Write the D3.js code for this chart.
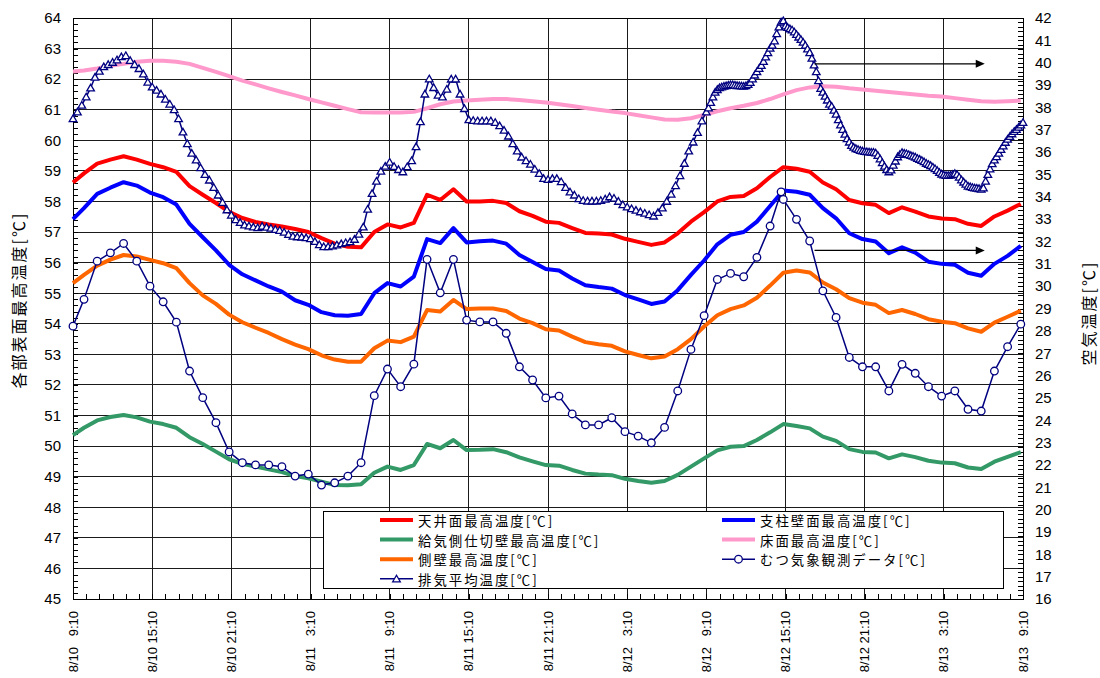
<!DOCTYPE html>
<html><head><meta charset="utf-8">
<script src="https://cdn.jsdelivr.net/npm/d3@7/dist/d3.min.js"></script>
<style>body{margin:0;background:#fff}svg{display:block}</style>
</head><body>
<svg id="c" width="1100" height="678"></svg>
<script>
// ---------------- data ----------------
const seriesNames = ["天井面最高温度[℃]","支柱壁面最高温度[℃]","給気側仕切壁最高温度[℃]","床面最高温度[℃]","側壁最高温度[℃]","むつ気象観測データ[℃]","排気平均温度[℃]"];
const leftTitle = "各部表面最高温度[℃]";
const rightTitle = "空気温度[℃]";
const leftTicks = d3.range(45, 65);
const rightTicks = d3.range(16, 43);

// surface temps: 8/10 9:10, then hourly 10:00 ... 8/13 9:00 (left axis)
const ceiling = [58.62,58.92,59.24,59.37,59.48,59.37,59.23,59.12,58.97,58.5,58.22,57.95,
 57.66,57.46,57.33,57.25,57.18,57.1,57.0,56.8,56.62,56.52,56.5,57.0,
 57.25,57.15,57.3,58.22,58.05,58.4,58.0,58.0,58.02,57.95,57.68,57.53,
 57.34,57.3,57.13,56.97,56.95,56.92,56.78,56.68,56.58,56.66,56.96,57.34,
 57.65,58.0,58.15,58.18,58.43,58.8,59.12,59.07,58.97,58.62,58.4,58.05,
 57.94,57.89,57.62,57.81,57.67,57.51,57.44,57.42,57.27,57.2,57.51,57.7,
 57.92];
const pillar = [57.42,57.78,58.25,58.45,58.63,58.52,58.29,58.14,57.9,57.27,56.83,56.4,
 55.93,55.62,55.42,55.22,55.05,54.77,54.62,54.38,54.28,54.26,54.32,55.0,
 55.33,55.22,55.54,56.77,56.64,57.13,56.66,56.7,56.72,56.62,56.25,56.02,
 55.79,55.74,55.48,55.26,55.2,55.15,54.94,54.8,54.65,54.73,55.1,55.6,
 56.07,56.6,56.91,57.0,57.34,57.85,58.36,58.32,58.22,57.78,57.45,56.96,
 56.77,56.69,56.31,56.5,56.33,56.03,55.96,55.93,55.67,55.57,55.96,56.22,
 56.55];
const partition = [50.36,50.6,50.84,50.95,51.02,50.94,50.8,50.72,50.6,50.29,50.07,49.82,
 49.57,49.42,49.33,49.24,49.15,49.02,48.95,48.84,48.73,48.72,48.75,49.13,
 49.33,49.22,49.38,50.07,49.93,50.2,49.87,49.88,49.9,49.8,49.63,49.5,
 49.38,49.36,49.22,49.1,49.07,49.05,48.93,48.86,48.8,48.86,49.06,49.33,
 49.6,49.86,49.98,50.0,50.2,50.45,50.72,50.66,50.58,50.31,50.17,49.9,
 49.81,49.79,49.6,49.73,49.64,49.52,49.46,49.44,49.3,49.25,49.49,49.65,
 49.8];
const floorT = [62.25,62.28,62.35,62.44,62.5,62.57,62.6,62.6,62.57,62.5,62.37,62.24,
 62.1,61.95,61.83,61.7,61.58,61.47,61.35,61.24,61.13,61.02,60.92,60.91,
 60.91,60.91,60.93,61.05,61.18,61.27,61.3,61.33,61.35,61.35,61.32,61.28,
 61.24,61.18,61.12,61.06,61.0,60.94,60.89,60.82,60.75,60.68,60.67,60.72,
 60.83,60.95,61.05,61.13,61.22,61.35,61.5,61.64,61.73,61.77,61.75,61.7,
 61.66,61.62,61.58,61.54,61.5,61.46,61.43,61.38,61.33,61.28,61.26,61.28,
 61.3];
const sideWall = [55.33,55.6,55.9,56.1,56.25,56.2,56.09,55.98,55.82,55.33,54.93,54.65,
 54.3,54.05,53.87,53.7,53.5,53.32,53.17,52.97,52.83,52.76,52.76,53.2,
 53.45,53.4,53.58,54.45,54.4,54.78,54.48,54.5,54.5,54.42,54.17,54.02,
 53.82,53.78,53.58,53.4,53.33,53.28,53.1,52.98,52.87,52.93,53.17,53.5,
 53.91,54.28,54.48,54.6,54.85,55.25,55.67,55.74,55.68,55.35,55.13,54.84,
 54.69,54.62,54.35,54.45,54.32,54.15,54.07,54.02,53.85,53.74,54.04,54.23,
 54.43];
// Mutsu weather observation (right axis), same hourly times
const mutsu = [28.21,29.41,31.12,31.49,31.91,31.12,30.0,29.3,28.39,26.2,25.01,23.89,
 22.58,22.1,22.0,22.0,21.92,21.5,21.59,21.1,21.2,21.5,22.1,25.1,
 26.29,25.5,26.51,31.2,29.7,31.2,28.48,28.4,28.4,27.89,26.39,25.8,
 25.0,25.08,24.28,23.79,23.79,24.11,23.49,23.29,22.99,23.68,25.31,27.17,
 28.68,30.3,30.57,30.42,31.29,32.69,33.88,32.99,32.02,29.79,28.6,26.81,
 26.39,26.39,25.31,26.5,26.1,25.5,25.08,25.31,24.49,24.41,26.2,27.29,
 28.3];
const mutsuExtraTime = "2008-08-12T14:50";
const mutsuExtraValue = 34.22;
// exhaust average (right axis): 20-min steps 8/10 9:10 .. 8/12 9:10
const exhaust20 = [37.5,37.8,38.1, 38.47,38.87,39.35, 39.62,39.82,39.92, 40.02,40.13,40.27,
 40.32,40.1,39.92, 39.74,39.5,39.13, 38.92,38.77,38.6, 38.37,38.15,37.9,
 37.5,36.9,36.38, 35.95,35.65,35.3, 35.0,34.75,34.42, 34.08,33.75,33.42,
 33.18,32.98,32.85, 32.74,32.7,32.65, 32.62,32.68,32.64, 32.6,32.54,32.5,
 32.42,32.32,32.24, 32.21,32.2,32.17, 32.13,32.0,31.86, 31.77,31.77,31.8,
 31.85,31.9,31.95, 31.99,32.1,32.33, 32.65,33.45,34.15, 34.7,35.15,35.37,
 35.55,35.36,35.22, 35.12,35.35,35.62, 36.24,37.36,38.6, 39.28,38.89,38.55,
 38.47,38.82,39.27, 39.27,38.6,37.95, 37.45,37.42,37.4, 37.4,37.4,37.4,
 37.33,37.18,36.98, 36.72,36.38,36.05, 35.78,35.62,35.46, 35.24,35.05,34.82,
 34.78,34.82,34.82, 34.68,34.42,34.22, 34.08,33.92,33.84, 33.81,33.81,33.81,
 33.84,33.9,34.0, 33.94,33.8,33.65, 33.55,33.47,33.4, 33.33,33.27,33.2,
 33.14,33.3,33.5, 33.8,34.12,34.5, 34.95,35.5,36.05, 36.45,36.88,37.4,
 37.8];
// exhaust average: 10-min steps 8/12 9:20 .. 8/13 9:10
const exhaust10 = [37.98,38.22,38.47,38.68,38.8,38.88,
 38.92,38.95,38.97,39.0,39.02,39.02,
 39.0,38.98,38.97,38.96,38.95,38.97,
 39.03,39.12,39.28,39.45,39.6,39.75,
 39.88,40.06,40.26,40.45,40.65,40.78,
 40.98,41.3,41.6,41.82,41.88,41.65,
 41.58,41.52,41.47,41.38,41.27,41.15,
 41.04,40.92,40.78,40.62,40.45,40.2,
 39.9,39.6,39.2,38.85,38.68,38.5,
 38.33,38.15,38.05,37.88,37.7,37.45,
 37.22,37.02,36.8,36.6,36.45,36.3,
 36.22,36.16,36.12,36.08,36.05,36.03,
 36.02,36.01,36.0,36.0,35.96,35.85,
 35.7,35.53,35.37,35.22,35.12,35.2,
 35.42,35.6,35.79,35.9,35.98,35.95,
 35.93,35.89,35.85,35.82,35.78,35.72,
 35.68,35.63,35.57,35.5,35.45,35.4,
 35.33,35.26,35.18,35.09,35.02,34.98,
 34.96,34.96,34.97,35.0,35.05,35.0,
 34.88,34.76,34.66,34.57,34.48,34.45,
 34.42,34.4,34.39,34.37,34.34,34.4,
 34.7,35.0,35.25,35.48,35.65,35.8,
 35.95,36.12,36.28,36.44,36.58,36.7,
 36.82,36.93,37.02,37.12,37.22,37.33];

// ---------------- setup ----------------
const HOUR = 3600e3;
const start = new Date(2008, 7, 10, 9, 10);
const end = new Date(start.getTime() + 72 * HOUR);
const hourlyTimes = d3.range(73).map(i => i === 0 ? start : new Date(2008, 7, 10, 9 + i, 0));
const ex20Times = exhaust20.map((_, i) => new Date(start.getTime() + i * 20 * 60e3));
const ex10Times = exhaust10.map((_, i) => new Date(start.getTime() + 48 * HOUR + (i + 1) * 10 * 60e3));

const L = 73, R = 1023, T = 18, B = 599;
const x = d3.scaleTime().domain([start, end]).range([L, R]);
const yL = d3.scaleLinear().domain([45, 64]).range([B, T]);
const yR = d3.scaleLinear().domain([16, 42]).range([B, T]);

const svg = d3.select("#c");
const NUMFONT = "'Liberation Sans', Arial, sans-serif";
const JPFONT = "'Noto Sans CJK JP', sans-serif";

// grid
const majorTimes = d3.range(0, 73, 6).map(h => new Date(start.getTime() + h * HOUR));
const grid = svg.append("g").attr("stroke", "#1a1a1a").attr("stroke-width", 1).attr("shape-rendering", "crispEdges");
grid.selectAll("line.gh").data(leftTicks.slice(1, -1)).join("line")
  .attr("x1", L).attr("x2", R).attr("y1", d => yL(d)).attr("y2", d => yL(d));
grid.selectAll("line.gv").data(majorTimes.slice(1, -1)).join("line")
  .attr("y1", T).attr("y2", B).attr("x1", d => x(d)).attr("x2", d => x(d));

// minor ticks (inward)
function styleAxis(g) {
  g.select(".domain").remove();
  g.selectAll("line").attr("stroke", "#000").attr("shape-rendering", "crispEdges");
}
svg.append("g").attr("transform", `translate(${L},0)`)
  .call(d3.axisLeft(yL).tickValues(d3.range(96).map(i => 45 + i * 0.2)).tickSize(-5).tickFormat(""))
  .call(styleAxis);
svg.append("g").attr("transform", `translate(${R},0)`)
  .call(d3.axisRight(yR).tickValues(d3.range(131).map(i => 16 + i * 0.2)).tickSize(-5).tickFormat(""))
  .call(styleAxis);
svg.append("g").attr("transform", `translate(0,${B})`)
  .call(d3.axisBottom(x).tickValues(d3.range(73).map(h => new Date(start.getTime() + h * HOUR))).tickSize(-5).tickFormat(""))
  .call(styleAxis);

// tick labels
svg.append("g").attr("transform", `translate(${L},0)`)
  .call(d3.axisLeft(yL).tickValues(leftTicks).tickSize(0).tickPadding(12).tickFormat(d3.format("d")))
  .call(g => { g.select(".domain").remove(); g.selectAll("text").attr("font-family", NUMFONT).attr("font-size", 15).attr("fill", "#000"); });
svg.append("g").attr("transform", `translate(${R},0)`)
  .call(d3.axisRight(yR).tickValues(rightTicks).tickSize(0).tickPadding(12).tickFormat(d3.format("d")))
  .call(g => { g.select(".domain").remove(); g.selectAll("text").attr("font-family", NUMFONT).attr("font-size", 15).attr("fill", "#000"); });

const xl = svg.append("g").attr("font-family", NUMFONT).attr("font-size", 13).attr("fill", "#000");
majorTimes.forEach(t => {
  const px = x(t);
  xl.append("text").attr("transform", `translate(${px},611) rotate(-90)`)
    .attr("text-anchor", "end").attr("dominant-baseline", "central")
    .text(`${t.getHours()}:${String(t.getMinutes()).padStart(2, "0")}`);
  xl.append("text").attr("transform", `translate(${px},647) rotate(-90)`)
    .attr("text-anchor", "end").attr("dominant-baseline", "central")
    .text(`${t.getMonth() + 1}/${t.getDate()}`);
});

// plot border
svg.append("rect").attr("x", L).attr("y", T).attr("width", R - L).attr("height", B - T)
  .attr("fill", "none").attr("stroke", "#000").attr("stroke-width", 1).attr("shape-rendering", "crispEdges");

// axis titles
svg.append("text").attr("transform", `translate(18,300) rotate(-90)`)
  .attr("text-anchor", "middle").attr("dominant-baseline", "central")
  .attr("font-family", JPFONT).attr("font-size", 16).attr("letter-spacing", 2).text(leftTitle);
svg.append("text").attr("transform", `translate(1088,313) rotate(-90)`)
  .attr("text-anchor", "middle").attr("dominant-baseline", "central")
  .attr("font-family", JPFONT).attr("font-size", 16).attr("letter-spacing", 2).text(rightTitle);

// ---------------- series ----------------
const plot = svg.append("g");
const colors = ["#ff0000", "#0000ff", "#339966", "#ff99cc", "#ff6600", "#000080", "#000080"];
const surface = [ceiling, pillar, partition, floorT, sideWall];
surface.forEach((arr, si) => {
  const pts = arr.map((v, i) => ({ t: hourlyTimes[i], v }));
  plot.append("path").datum(pts)
    .attr("d", d3.line().x(d => x(d.t)).y(d => yL(d.v)))
    .attr("fill", "none").attr("stroke", colors[si]).attr("stroke-width", 4)
    .attr("stroke-linejoin", "round").attr("stroke-linecap", "butt");
});

// observation
const obsPts = mutsu.map((v, i) => ({ t: hourlyTimes[i], v }));
obsPts.push({ t: new Date(mutsuExtraTime), v: mutsuExtraValue });
obsPts.sort((a, b) => a.t - b.t);
plot.append("path").datum(obsPts)
  .attr("d", d3.line().x(d => x(d.t)).y(d => yR(d.v)))
  .attr("fill", "none").attr("stroke", colors[5]).attr("stroke-width", 1.5);
plot.selectAll("circle.obs").data(obsPts).join("circle")
  .attr("cx", d => x(d.t)).attr("cy", d => yR(d.v)).attr("r", 3.8)
  .attr("fill", "#fff").attr("stroke", colors[5]).attr("stroke-width", 1.3);

// exhaust
const exPts = exhaust20.map((v, i) => ({ t: ex20Times[i], v }))
  .concat(exhaust10.map((v, i) => ({ t: ex10Times[i], v })));
plot.append("path").datum(exPts)
  .attr("d", d3.line().x(d => x(d.t)).y(d => yR(d.v)))
  .attr("fill", "none").attr("stroke", colors[6]).attr("stroke-width", 1.5);
const tri = "M0,-3.6L3.8,3L-3.8,3Z";
plot.selectAll("path.tri").data(exPts).join("path")
  .attr("transform", d => `translate(${x(d.t)},${yR(d.v)})`)
  .attr("d", tri).attr("fill", "#fff").attr("stroke", colors[6]).attr("stroke-width", 1.3);

// arrows (pointing to the right axis)
const arrows = [{ from: 56.2, to: 69.1, v: 39.95 }, { from: 56.2, to: 69.1, v: 31.6 }];
arrows.forEach(a => {
  const x1 = x(new Date(start.getTime() + a.from * HOUR)), x2 = x(new Date(start.getTime() + a.to * HOUR));
  const yy = yR(a.v);
  svg.append("line").attr("x1", x1).attr("x2", x2 - 8).attr("y1", yy).attr("y2", yy)
    .attr("stroke", "#000").attr("stroke-width", 1.3);
  svg.append("path").attr("d", `M${x2},${yy}L${x2 - 9},${yy - 4}L${x2 - 9},${yy + 4}Z`).attr("fill", "#000");
});

// ---------------- legend ----------------
const lg = svg.append("g");
lg.append("rect").attr("x", 323.5).attr("y", 511.5).attr("width", 680).attr("height", 77)
  .attr("fill", "#fff").attr("stroke", "#000").attr("stroke-width", 1);
const legendPos = [
  { c: 0, r: 0 }, { c: 1, r: 0 }, { c: 0, r: 1 }, { c: 1, r: 1 }, { c: 0, r: 2 }, { c: 1, r: 2 }, { c: 0, r: 3 }
];
const colX = [380, 722], rowY = [520, 539.6, 559.2, 578.8];
seriesNames.forEach((name, i) => {
  const p = legendPos[i];
  const x0 = colX[p.c], yy = rowY[p.r];
  const isMarker = i >= 5;
  lg.append("line").attr("x1", x0).attr("x2", x0 + 33).attr("y1", yy).attr("y2", yy)
    .attr("stroke", colors[i]).attr("stroke-width", isMarker ? 1.5 : 4);
  if (i === 5) lg.append("circle").attr("cx", x0 + 16.5).attr("cy", yy).attr("r", 3.8)
    .attr("fill", "#fff").attr("stroke", colors[i]).attr("stroke-width", 1.3);
  if (i === 6) lg.append("path").attr("transform", `translate(${x0 + 16.5},${yy})`).attr("d", tri)
    .attr("fill", "#fff").attr("stroke", colors[i]).attr("stroke-width", 1.3);
  lg.append("text").attr("x", x0 + 38).attr("y", yy).attr("dominant-baseline", "central")
    .attr("font-family", JPFONT).attr("font-size", 13.4).attr("letter-spacing", 2).attr("fill", "#000").text(name);
});
</script>
</body></html>
